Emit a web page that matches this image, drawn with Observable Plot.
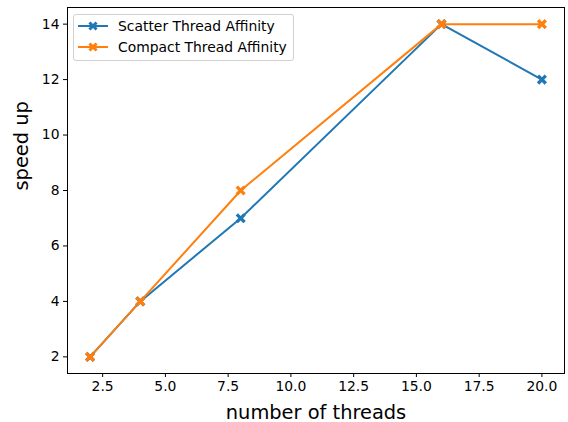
<!DOCTYPE html>
<html><head><meta charset="utf-8">
<script src="https://cdn.jsdelivr.net/npm/d3@7"></script>
<script src="https://cdn.jsdelivr.net/npm/@observablehq/plot@0.6"></script>
<style>
body{margin:0;background:#fff;font-family:"DejaVu Sans",sans-serif;}
#wrap{position:relative;width:568px;height:422px;}
#legend{position:absolute;left:73px;top:14px;width:221px;height:47px;box-sizing:border-box;border:1px solid #d0d0d0;border-radius:3px;background:rgba(255,255,255,0.8);font-size:13.9px;color:#000;}
.row{position:absolute;left:4px;height:20px;display:flex;align-items:center;white-space:nowrap;}
.row svg{margin-right:10px;}
</style></head>
<body><div id="wrap"><div id="legend"></div></div>
<script>
const threads = [2, 4, 8, 16, 20];
const scatter = [2, 4, 7, 14, 12];
const compact = [2, 4, 8, 14, 14];
const seriesNames = ["Scatter Thread Affinity", "Compact Thread Affinity"];
const colors = ["#1f77b4", "#ff7f0e"];
const xTicks = [2.5, 5, 7.5, 10, 12.5, 15, 17.5, 20];
const yTicks = [2, 4, 6, 8, 10, 12, 14];

const data = [];
threads.forEach((t, i) => data.push({series: seriesNames[0], x: t, y: scatter[i]}));
threads.forEach((t, i) => data.push({series: seriesNames[1], x: t, y: compact[i]}));

const xSymbol = {
  draw(ctx, size) {
    const r = Math.sqrt(size / Math.PI);
    const w = r * 0.3;
    const pts = [[w,-r],[w,-w],[r,-w],[r,w],[w,w],[w,r],[-w,r],[-w,w],[-r,w],[-r,-w],[-w,-w],[-w,-r]];
    const c = Math.SQRT1_2;
    pts.forEach(([px,py], i) => {
      const X = (px - py) * c, Y = (px + py) * c;
      i ? ctx.lineTo(X, Y) : ctx.moveTo(X, Y);
    });
    ctx.closePath();
  }
};

const chart = Plot.plot({
  width: 568, height: 422,
  marginLeft: 67, marginRight: 4, marginTop: 7, marginBottom: 49,
  style: {fontFamily: "DejaVu Sans, sans-serif", fontSize: "13.9px", color: "#000", background: "#fff"},
  x: {domain: [1.1, 20.9], ticks: xTicks, tickFormat: d => d.toFixed(1)},
  y: {domain: [1.4, 14.6], ticks: yTicks},
  color: {domain: seriesNames, range: colors},
  marks: [
    Plot.axisX({ticks: xTicks, tickFormat: d => d.toFixed(1), tickSize: 4, tickPadding: 4, fontSize: 13.9, label: null}),
    Plot.axisY({ticks: yTicks, tickSize: 4, tickPadding: 4, fontSize: 13.9, label: null}),
    Plot.text(["number of threads"], {frameAnchor: "bottom", dy: 45, fontSize: 19.4, textAnchor: "middle"}),
    Plot.text(["speed up"], {frameAnchor: "left", dx: -46, rotate: -90, fontSize: 19.4}),
    Plot.line(data, {x: "x", y: "y", z: "series", stroke: "series", strokeWidth: 2}),
    Plot.dot(data, {x: "x", y: "y", fill: "series", symbol: xSymbol, r: 5.5, stroke: null}),
    Plot.frame({stroke: "#000", strokeWidth: 1})
  ]
});
document.getElementById("wrap").prepend(chart);

const leg = document.getElementById("legend");
seriesNames.forEach((name, i) => {
  const row = document.createElement("div");
  row.className = "row";
  row.style.top = (1 + i * 21) + "px";
  row.innerHTML = `<svg width="30" height="12"><line x1="0" y1="6" x2="30" y2="6" stroke="${colors[i]}" stroke-width="2"/>` +
    `<path transform="translate(15,6)" fill="${colors[i]}" d="${(() => { const p = d3.path(); xSymbol.draw(p, 25*Math.PI); return p.toString(); })()}"/></svg><span>${name}</span>`;
  leg.appendChild(row);
});
</script></body></html>
